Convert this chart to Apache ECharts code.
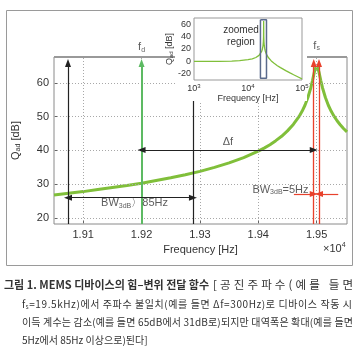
<!DOCTYPE html>
<html><head><meta charset="utf-8">
<script src="https://cdn.jsdelivr.net/npm/echarts@6/dist/echarts.min.js"></script>
<style>html,body{margin:0;padding:0;background:#fff}#c{width:362px;height:356px}</style>
</head><body><div id="c"></div>
<script>
// ---- data ----
const freqHz = [19050,19075,19100,19125,19150,19175,19200,19225,19250,19275,19300,19325,19350,19375,19400,19410,19420,19430,19440,19450,19460,19470,19475,19480,19485,19490,19493,19496,19498,19500,19502,19504,19507,19510,19515,19520,19525,19530,19535,19540,19546,19552];
const gainDb = [26.8,27.3,27.8,28.4,29.0,29.6,30.3,31.1,31.9,32.8,33.8,35.0,36.3,37.9,39.8,40.7,41.7,42.9,44.2,45.8,47.7,50.1,51.6,53.4,55.7,58.6,60.8,63.2,64.5,65.0,64.5,63.2,60.8,58.6,55.7,53.4,51.6,50.1,48.8,47.7,46.5,45.5];
const xTickValues = [19100,19200,19300,19400,19500];
const yTickValues = [20,30,40,50,60];
const insetFreq = [1000,2000,3000,5000,7000,10000,12000,14000,16000,17000,18000,18500,19000,19250,19400,19500,19600,19750,20000,20500,21000,22000,24000,27000,30000,35000,40000,50000,60000,70000,85000,100000];
const insetGain = [0.0,0.1,0.2,0.6,1.2,2.7,4.1,6.3,9.7,12.4,16.6,20.0,25.9,31.9,39.8,65.0,39.8,31.8,25.7,19.6,15.9,11.3,5.8,0.8,-2.7,-6.9,-10.1,-14.9,-18.6,-21.5,-25.1,-28.1];
const insetYTicks = [-20,0,20,40,60];
const insetMinorFreq = [2000,3000,4000,5000,6000,7000,8000,9000,10000,20000,30000,40000,50000,60000,70000,80000,90000];
const zoomedRegionHz = [17000, 22000];
const zoomedRegionDb = [-27, 67];
// marker frequencies [Hz]
const fdHz = 19200, fsHz = 19500;
const bwWideLeft = 19074, bwWideRight = 19288;
const bwNarrowLeft = 19495, bwNarrowRight = 19504;
const redArrowOuterLeft = 19461, redArrowOuterRight = 19537;
// annotation levels [dB]
const arrowTopDb = 65.9, deltaFDb = 40.1, bwWideDb = 26.0, bwNarrowDb = 27.1;

// caption text
const captionBold = '그림 1. MEMS 디바이스의 힘–변위 전달 함수';
const captionLine1 = '[공진주파수(예를 들면';
const captionLine2 = 'f_s=19.5kHz)에서 주파수 불일치(예를 들면 Δf=300Hz)로 디바이스 작동 시';
const captionLine3 = '이득 계수는 감소(예를 들면 65dB에서 31dB로)되지만 대역폭은 확대(예를 들면';
const captionLine4 = '5Hz에서 85Hz 이상으로)된다]';

const xMin = 19050, xMax = 19552, yMin = 18.2, yMax = 67.7;
const FONT = "'Liberation Sans Narrow','Liberation Sans',Arial,sans-serif";
const KFONT = "'Noto Sans CJK KR','Noto Sans',sans-serif";
const TXT = '#333';
const GREEN = '#80bf3a', GREEN2 = '#5dba63', RED = '#e8412c', BLACK = '#222';

const subRich = {sub:{fontSize:7, fontFamily:FONT, color:TXT, padding:[5,0,0,0]}, n:{fontSize:11, fontFamily:FONT, color:TXT}};

function seg(p1, p2, color, s1, s2, w) {
  return [{coord:p1, symbol:s1, lineStyle:{color:color, width:w||1.2, type:'solid'}}, {coord:p2, symbol:s2}];
}

// caption lines justified by spreading characters evenly
const mctx = document.createElement('canvas').getContext('2d');
function tokens(str) {
  const out = [];
  const chars = Array.from(str);
  for (let i = 0; i < chars.length; i++) {
    if (chars[i] === '_') { out.push({t:chars[i+1], sub:true}); i++; }
    else out.push({t:chars[i], sub:false});
  }
  return out;
}
function justifyChars(str, x0, x1, y, size) {
  const toks = tokens(str);
  const ws = toks.map(tk => { mctx.font = (tk.sub ? 6 : size) + 'px ' + KFONT; return mctx.measureText(tk.t).width; });
  const total = ws.reduce((a,b)=>a+b,0);
  const gap = (x1 - x0 - total) / (toks.length - 1);
  let x = x0;
  const els = [];
  toks.forEach((tk,i) => {
    if (tk.t !== ' ') {
      els.push({type:'text', x:x, y:tk.sub ? y+3 : y, style:{text:tk.t, verticalAlign:'middle', fontFamily:KFONT, fontSize:tk.sub?6:size, fill:'#333'}});
    }
    x += ws[i] + gap;
  });
  return els;
}

const chart = echarts.init(document.getElementById('c'));
chart.setOption({
  animation:false,
  backgroundColor:'#fff',
  grid:[
    {left:54, top:57, width:293, height:167, show:true, borderColor:'#8a8a8a', borderWidth:1},
    {left:194, top:18, width:108, height:62, show:true, borderColor:'#999', borderWidth:1, z:110}
  ],
  xAxis:[
    {type:'value', gridIndex:0, min:xMin, max:xMax,
     name:'Frequency [Hz]', nameLocation:'middle', nameGap:20,
     nameTextStyle:{fontFamily:FONT, fontSize:11, color:TXT},
     axisLine:{show:false},
     axisTick:{show:true, inside:true, length:3, customValues:xTickValues, lineStyle:{color:'#666'}},
     axisLabel:{customValues:xTickValues, fontFamily:FONT, fontSize:11, color:TXT, margin:5,
       formatter:v => (v/10000).toFixed(2)},
     splitLine:{show:false}},
    {type:'log', gridIndex:1, min:1000, max:100000, logBase:10, z:110,
     name:'Frequency [Hz]', nameLocation:'middle', nameGap:14,
     nameTextStyle:{fontFamily:FONT, fontSize:9, color:TXT},
     axisLine:{show:false}, axisTick:{show:false},
     axisLabel:{fontFamily:FONT, fontSize:9, color:TXT, margin:3,
       formatter:v => '10{s|' + Math.round(Math.log10(v)) + '}',
       rich:{s:{fontSize:6, fontFamily:FONT, color:TXT, padding:[0,0,6,0]}}},
     splitLine:{show:false}}
  ],
  yAxis:[
    {type:'value', gridIndex:0, min:yMin, max:yMax,
     name:'{n|Q}{sub|ad}{n| [dB]}', nameLocation:'middle', nameGap:32, nameRotate:90,
     nameTextStyle:{rich:subRich},
     axisLine:{show:false},
     axisTick:{show:true, inside:true, length:3, customValues:yTickValues, lineStyle:{color:'#666'}},
     axisLabel:{customValues:yTickValues, fontFamily:FONT, fontSize:11, color:TXT, margin:5},
     splitLine:{show:false}},
    {type:'value', gridIndex:1, min:-30, max:70, z:110,
     name:'{n|Q}{sub|ad}{n| [dB]}', nameLocation:'middle', nameGap:15, nameRotate:90,
     nameTextStyle:{rich:{n:{fontSize:9, fontFamily:FONT, color:TXT}, sub:{fontSize:6, fontFamily:FONT, color:TXT, padding:[4,0,0,0]}}},
     axisLine:{show:false}, axisTick:{show:false},
     axisLabel:{customValues:insetYTicks, fontFamily:FONT, fontSize:9, color:TXT, margin:3},
     splitLine:{show:false}}
  ],
  graphic:[
    {type:'rect', shape:{x:6.5, y:10.5, width:346, height:255}, style:{fill:'none', stroke:'#9a9a9a', lineWidth:1}, z:0},
    {type:'line', shape:{x1:54, y1:57, x2:347, y2:57}, style:{stroke:'#999', lineWidth:2}, z:50},
    {type:'rect', shape:{x:175, y:11, width:132, height:90}, style:{fill:'#fff'}, z:100},
    {type:'text', x:323, y:242, z:120, style:{text:'×10{s|4}', fontFamily:FONT, fontSize:11, fill:TXT,
       rich:{s:{fontSize:7, fontFamily:FONT, fill:TXT, padding:[0,0,6,0]}}}},
    {type:'text', x:241, y:36, z:130, style:{text:'zoomed\nregion', fontFamily:FONT, fontSize:10, lineHeight:12, fill:TXT, align:'center', verticalAlign:'middle'}},
    {type:'text', x:4, y:285, style:{text:captionBold, verticalAlign:'middle', fontFamily:KFONT, fontSize:11, fontWeight:'bold', fill:'#333'}}
  ].concat(justifyChars(captionLine1, 213, 353, 285, 11.5))
   .concat(justifyChars(captionLine2, 22, 352, 304, 10))
   .concat(justifyChars(captionLine3, 22, 353, 322, 10))
   .concat([{type:'text', x:22, y:340, style:{text:captionLine4, verticalAlign:'middle', fontFamily:KFONT, fontSize:10, fill:'#333'}}]),
  series:[
    {type:'line', xAxisIndex:0, yAxisIndex:0, data:[[xMin,yMin]], showSymbol:false, z:1, silent:true,
     markLine:{silent:true, symbol:'none', label:{show:false}, animation:false,
       lineStyle:{type:[1,2], color:'#a8a8a8', width:1},
       data: xTickValues.map(v => ({xAxis:v})).concat(yTickValues.map(v => ({yAxis:v})))}},
    {type:'line', xAxisIndex:0, yAxisIndex:0, data:freqHz.map((f,i)=>[f,gainDb[i]]),
     showSymbol:false, smooth:false, lineStyle:{color:GREEN, width:3}, z:3},
    {type:'line', xAxisIndex:0, yAxisIndex:0, data:[[xMin,yMin]], showSymbol:false, z:4, silent:true,
     markLine:{silent:true, label:{show:false}, symbolSize:[6,8], animation:false,
       data:[
         seg([bwWideLeft,yMin],[bwWideLeft,arrowTopDb],BLACK,'none','triangle',1.2),
         seg([fdHz,yMin],[fdHz,arrowTopDb],GREEN2,'none','triangle',2),
         seg([bwWideRight,yMin],[bwWideRight,yMax],BLACK,'none','none',1.2),
         seg([bwNarrowLeft,yMin],[bwNarrowLeft,arrowTopDb],RED,'none','triangle',1.3),
         seg([bwNarrowRight,yMin],[bwNarrowRight,arrowTopDb],RED,'none','triangle',1.3),
         seg([fdHz,deltaFDb],[bwNarrowLeft,deltaFDb],BLACK,'triangle','triangle',1.2),
         seg([bwWideLeft,bwWideDb],[bwWideRight,bwWideDb],BLACK,'triangle','triangle',1.2),
         seg([redArrowOuterLeft,bwNarrowDb],[bwNarrowLeft,bwNarrowDb],RED,'none','triangle',1.2),
         seg([redArrowOuterRight,bwNarrowDb],[bwNarrowRight,bwNarrowDb],RED,'none','triangle',1.2)
       ]}},
    {type:'scatter', xAxisIndex:0, yAxisIndex:0, symbolSize:0, clip:false, z:5, silent:true,
     label:{show:true, position:'inside', fontFamily:FONT, fontSize:11, color:TXT},
     data:[
       {value:[fdHz,70.6], label:{formatter:'f{s|d}', rich:{s:{fontSize:7,fontFamily:FONT,color:TXT,padding:[5,0,0,0]}}}},
       {value:[fsHz,71.1], label:{formatter:'f{s|s}', rich:{s:{fontSize:7,fontFamily:FONT,color:TXT,padding:[5,0,0,0]}}}},
       {value:[19348,42.5], label:{formatter:'Δf'}},
       {value:[19188,24.4], label:{formatter:'BW{s|3dB}〉85Hz', rich:{s:{fontSize:7,fontFamily:FONT,color:TXT,padding:[5,0,0,0]}}}},
       {value:[19438,28.3], label:{formatter:'BW{s|3dB}=5Hz', rich:{s:{fontSize:7,fontFamily:FONT,color:TXT,padding:[5,0,0,0]}}}}
     ]},
    {type:'line', xAxisIndex:1, yAxisIndex:1, data:[[1000,-30]], showSymbol:false, z:111, silent:true,
     markLine:{silent:true, symbol:'none', label:{show:false}, animation:false,
       lineStyle:{type:'solid', color:'#e2e2e2', width:0.8},
       data: insetMinorFreq.map(v => ({xAxis:v})).concat(insetYTicks.map(v => ({yAxis:v})))}},
    {type:'line', xAxisIndex:1, yAxisIndex:1, data:insetFreq.map((f,i)=>[f,insetGain[i]]),
     showSymbol:false, lineStyle:{color:GREEN, width:1.3}, z:112},
    {type:'line', xAxisIndex:1, yAxisIndex:1, showSymbol:false, z:113, silent:true,
     lineStyle:{color:'#5a6a8c', width:1.5},
     data:[[zoomedRegionHz[0],zoomedRegionDb[1]],[zoomedRegionHz[1],zoomedRegionDb[1]],[zoomedRegionHz[1],zoomedRegionDb[0]],[zoomedRegionHz[0],zoomedRegionDb[0]],[zoomedRegionHz[0],zoomedRegionDb[1]]]}
  ]
});
</script></body></html>
